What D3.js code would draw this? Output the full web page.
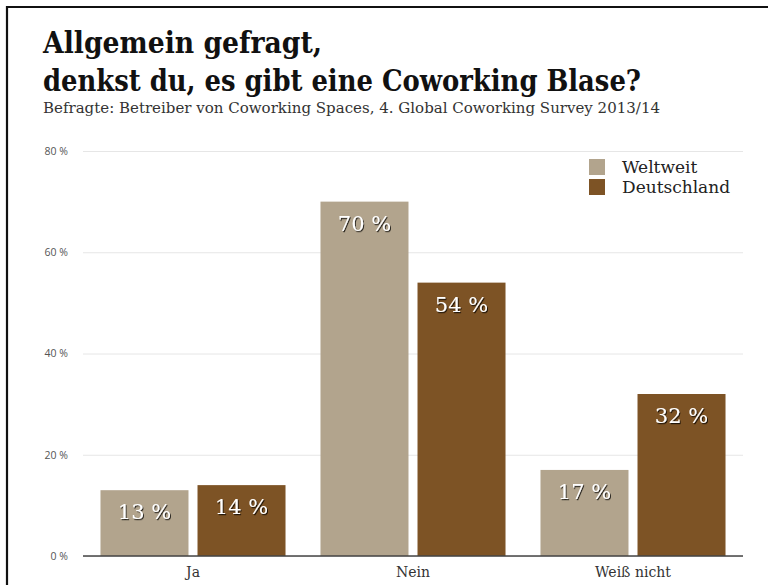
<!DOCTYPE html>
<html>
<head>
<meta charset="utf-8">
<script src="https://cdn.jsdelivr.net/npm/d3@7"></script>
<style>
  html, body { margin: 0; padding: 0; background: #fff; }
  svg { display: block; }
</style>
</head>
<body>
<svg id="chart" width="768" height="585"></svg>
<script>
// Survey answers: "Do you think there is a coworking bubble?"
const categories = ["Ja", "Nein", "Weiß nicht"];
const seriesNames = ["Weltweit", "Deutschland"];
const weltweit = [13, 70, 17];
const deutschland = [14, 54, 32];
const yTicks = [0, 20, 40, 60, 80];

const colors = { "Weltweit": "#b2a48d", "Deutschland": "#7d5325" };

const svg = d3.select("#chart");

// frame around the graphic
svg.append("path")
  .attr("d", "M7,585 V7 H768")
  .attr("fill", "none")
  .attr("stroke", "#111")
  .attr("stroke-width", 2.2);

// titles
const serif = "'DejaVu Serif', serif";
const condensed = "'DejaVu Serif Condensed', 'DejaVu Serif', serif";
svg.append("text")
  .attr("x", 43).attr("y", 53)
  .attr("font-family", condensed).attr("font-weight", "bold")
  .attr("font-size", 30).attr("fill", "#111")
  .attr("textLength", 279).attr("lengthAdjust", "spacingAndGlyphs")
  .text("Allgemein gefragt,");
svg.append("text")
  .attr("x", 43).attr("y", 91)
  .attr("font-family", condensed).attr("font-weight", "bold")
  .attr("font-size", 30).attr("fill", "#111")
  .attr("textLength", 598).attr("lengthAdjust", "spacingAndGlyphs")
  .text("denkst du, es gibt eine Coworking Blase?");
svg.append("text")
  .attr("x", 43).attr("y", 113)
  .attr("font-family", serif)
  .attr("font-size", 15).attr("fill", "#333")
  .attr("textLength", 617).attr("lengthAdjust", "spacingAndGlyphs")
  .text("Befragte: Betreiber von Coworking Spaces, 4. Global Coworking Survey 2013/14");

// scales
const plotLeft = 83, plotRight = 743;
const y = d3.scaleLinear().domain([0, 80]).range([556, 151]);
const x0 = d3.scaleBand().domain(categories).range([plotLeft, plotRight])
  .paddingInner(0.159).paddingOuter(0.0795);
const x1 = d3.scaleBand().domain(seriesNames).range([0, x0.bandwidth()])
  .paddingInner(0.093);

// gridlines + y tick labels
const yAxis = d3.axisLeft(y).tickValues(yTicks)
  .tickSize(-(plotRight - plotLeft))
  .tickFormat(d => d + " %");
const gy = svg.append("g").attr("transform", `translate(${plotLeft},0)`).call(yAxis);
gy.select(".domain").remove();
gy.selectAll(".tick line").attr("stroke", "#e6e6e6").attr("stroke-width", 1);
gy.selectAll(".tick text")
  .attr("x", -15)
  .attr("font-family", "'Open Sans', sans-serif")
  .attr("font-size", 10.5).attr("fill", "#555");

// drop shadow for value labels
const defs = svg.append("defs");
const f = defs.append("filter").attr("id", "shadow")
  .attr("x", "-20%").attr("y", "-20%").attr("width", "140%").attr("height", "140%");
f.append("feDropShadow").attr("dx", 1).attr("dy", 1.2)
  .attr("stdDeviation", 0.6).attr("flood-color", "#000").attr("flood-opacity", 0.75);

// bars
const rows = categories.map((c, i) => ({
  cat: c,
  values: [
    { key: "Weltweit", value: weltweit[i] },
    { key: "Deutschland", value: deutschland[i] }
  ]
}));

const groups = svg.append("g").selectAll("g").data(rows).join("g")
  .attr("transform", d => `translate(${x0(d.cat)},0)`);

groups.selectAll("rect").data(d => d.values).join("rect")
  .attr("x", d => x1(d.key))
  .attr("y", d => y(d.value))
  .attr("width", x1.bandwidth())
  .attr("height", d => y(0) - y(d.value))
  .attr("fill", d => colors[d.key]);

groups.selectAll("text.val").data(d => d.values).join("text")
  .attr("class", "val")
  .attr("x", d => x1(d.key) + x1.bandwidth() / 2)
  .attr("y", d => y(d.value) + 29)
  .attr("text-anchor", "middle")
  .attr("font-family", serif)
  .attr("font-size", 21)
  .attr("fill", "#fff")
  .attr("filter", "url(#shadow)")
  .text(d => d.value + " %");

// baseline
svg.append("line")
  .attr("x1", plotLeft).attr("x2", plotRight)
  .attr("y1", y(0)).attr("y2", y(0))
  .attr("stroke", "#444").attr("stroke-width", 1.5);

// category labels
const xAxis = d3.axisBottom(x0).tickSize(0).tickPadding(0);
const gx = svg.append("g").attr("transform", `translate(0,${y(0)})`).call(xAxis);
gx.select(".domain").remove();
gx.selectAll(".tick text")
  .attr("y", 21).attr("dy", 0)
  .attr("font-family", serif)
  .attr("font-size", 14).attr("fill", "#333");

// legend
const legend = svg.append("g").selectAll("g").data(seriesNames).join("g")
  .attr("transform", (d, i) => `translate(589,${159 + i * 20})`);
legend.append("rect").attr("width", 16).attr("height", 16)
  .attr("fill", d => colors[d]);
legend.append("text")
  .attr("x", 33).attr("y", 14)
  .attr("font-family", serif)
  .attr("font-size", 17).attr("fill", "#222")
  .text(d => d);
</script>
</body>
</html>
